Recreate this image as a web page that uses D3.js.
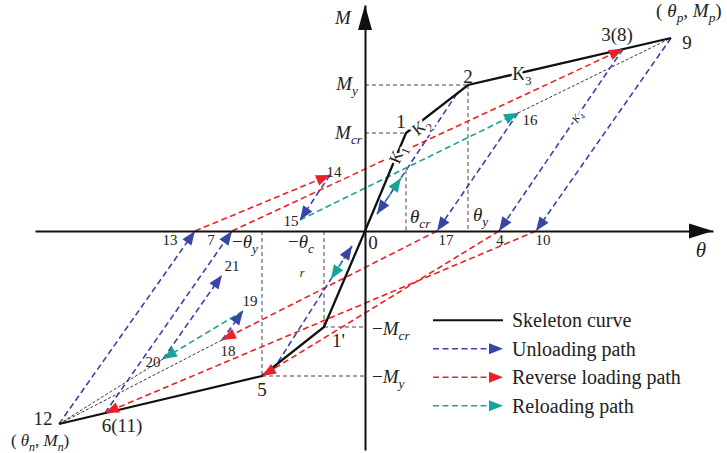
<!DOCTYPE html>
<html><head><meta charset="utf-8">
<script src="https://cdn.jsdelivr.net/npm/d3@7"></script>
<style>
body{margin:0;background:#fff}
svg{display:block}
text{font-family:"Liberation Serif","Times New Roman",serif;fill:#222}
</style>
</head><body>
<svg id="c" width="727" height="453"></svg>
<script>
// ---------- data (θ, M in schematic units) ----------
const pointIds   = ["O","1","2","3","9","1'","5","6","12","4","10","17","13","7","14","15","16","18","19","20","21","a","b","c","d","e","f"];
const pointTheta = [0, 4.1, 10.3, 25.8, 30.6, -4.1, -10.3, -26.0, -30.6, 13.4, 17.1, 7.2, -17.0, -13.3, -3.5, -6.5, 15.3, -14.3, -12.2, -20.2, -14.3, 9.2, 1.2, 3.6, -9.2, -1.3, -3.4];
const pointM     = [0, 9.8, 14.6, 18.2, 19.3, -9.6, -14.5, -18.2, -19.3, 0, 0, 0, 0, 0, 5.6, 1.1, 11.8, -10.9, -8.0, -12.8, -4.4, 13.75, 1.7, 5.3, -13.9, -1.5, -4.8];

const skeletonPositive = ["O","1","2","9"];
const skeletonNegative = ["O","1'","5","12"];
const unloadingPaths = [["9","10"],["3","4"],["16","17"],["14","15"],["12","13"],["6","7"],["20","21"],["18","19"],["a","b"],["d","e"]];
const reverseLoadingPaths = [["4","5"],["10","6"],["13","14"],["7","3"],["17","18"]];
const reloadingPaths = [["15","16"],["19","20"],["b","c"],["e","f"]];
const targetPaths = [["16","9"],["20","12"],["18","12"]];

const legendLabels = ["Skeleton curve","Unloading path","Reverse loading path","Reloading path"];
const legendKinds  = ["skeleton","unloading","reverse","reloading"];

// ---------- setup ----------
const P = {};
pointIds.forEach((id,i)=>P[id]=[pointTheta[i], pointM[i]]);
const svg = d3.select("#c");
const x = d3.scaleLinear().domain([-33, 34.8]).range([35, 713]);
const y = d3.scaleLinear().domain([-21.9, 22.6]).range([450, 5]);
const color = {unloading:"#3a44a6", reverse:"#ea2228", reloading:"#17a39a", skeleton:"#111"};
const line = d3.line().x(d=>x(d[0])).y(d=>y(d[1]));

// ---------- guide lines ----------
const Mcross = P.b[1] + (P["1"][0]-P.b[0])*(P.a[1]-P.b[1])/(P.a[0]-P.b[0]);
const guides = [
  [[0,P["1"][1]],P["1"]], [[0,P["2"][1]],P["2"]], [P["2"],[P["2"][0],0]],
  [[P["1"][0],Mcross],[P["1"][0],0]],
  [P["1'"],[0,P["1'"][1]]], [P["5"],[0,P["5"][1]]],
  [[P["1'"][0],0],P["1'"]], [[P["5"][0],0],P["5"]]
];
const gG = svg.append("g");
guides.forEach(g=>gG.append("path").attr("d",line(g)).attr("fill","none")
  .attr("stroke","#444").attr("stroke-width",1).attr("stroke-dasharray","4,3"));

// thin black target lines
targetPaths.forEach(([a,b])=>svg.append("path").attr("d",line([P[a],P[b]])).attr("fill","none")
  .attr("stroke","#222").attr("stroke-width",0.9).attr("stroke-dasharray","3,2"));

// ---------- path drawing ----------
function arrowHead(g, p0, p1, col, L=14, W=5.5){
  const x0=x(p0[0]), y0=y(p0[1]), x1=x(p1[0]), y1=y(p1[1]);
  const dx=x1-x0, dy=y1-y0, len=Math.hypot(dx,dy), ux=dx/len, uy=dy/len;
  const bx=x1-ux*L, by=y1-uy*L;
  g.append("path").attr("d",`M${x1},${y1}L${bx-uy*W},${by+ux*W}L${bx+uy*W},${by-ux*W}Z`).attr("fill",col);
}
const layerLines = svg.append("g"), layerHeads = svg.append("g");
function dashed(paths, kind){
  paths.forEach(([a,b])=>{
    layerLines.append("path").attr("d",line([P[a],P[b]])).attr("fill","none")
      .attr("stroke",color[kind]).attr("stroke-width",1.6).attr("stroke-dasharray","6,3.5");
    arrowHead(layerHeads, P[a], P[b], color[kind]);
  });
}
dashed(reverseLoadingPaths,"reverse");
dashed(unloadingPaths,"unloading");
dashed(reloadingPaths,"reloading");

// skeleton
[skeletonPositive, skeletonNegative].forEach(s=>svg.append("path").attr("d",line(s.map(k=>P[k])))
  .attr("fill","none").attr("stroke",color.skeleton).attr("stroke-width",2.3).attr("stroke-linejoin","miter"));
svg.node().appendChild(layerHeads.node());

// ---------- axes ----------
const ax = svg.append("g").attr("transform",`translate(0,${y(0)})`)
  .call(d3.axisBottom(x).tickValues([]).tickSizeOuter(0));
const ay = svg.append("g").attr("transform",`translate(${x(0)},0)`)
  .call(d3.axisLeft(y).tickValues([]).tickSizeOuter(0));
[ax,ay].forEach(a=>a.select(".domain").attr("stroke","#111").attr("stroke-width",2));
const xe = x.range()[1], ye = y.range()[1];
svg.append("path").attr("d",`M${xe},${y(0)}L${xe-24},${y(0)-7.5}L${xe-24},${y(0)+7.5}Z`).attr("fill","#111");
svg.append("path").attr("d",`M${x(0)},${ye}L${x(0)-7},${ye+25}L${x(0)+7},${ye+25}Z`).attr("fill","#111");

// ---------- text ----------
function rich(px, py, parts, size, anchor="start", extra={}){
  const t = svg.append("text").attr("x",px).attr("y",py).attr("font-size",size).attr("text-anchor",anchor);
  let off=0;
  parts.forEach(([s,k,dx])=>{
    const sub = k==="s"||k==="sn";
    const target = sub? size*0.28 : 0;
    const ts = t.append("tspan").text(s).attr("dy", target-off);
    if (dx) ts.attr("dx",dx);
    off = target;
    if (sub) ts.attr("font-size", size*0.7);
    if (k==="i"||k==="s") ts.attr("font-style","italic");
  });
  if (extra.halo) t.attr("stroke","#fff").attr("stroke-width",5).attr("paint-order","stroke").attr("stroke-linejoin","round");
  if (extra.rotate!==undefined) t.attr("transform",`rotate(${extra.rotate},${extra.cx},${extra.cy})`);
  return t;
}
const big=19, small=15;
// main point labels
rich(373,249,[["0","n"]],big,"middle");
rich(401,128,[["1","n"]],big,"middle");
rich(468,83,[["2","n"]],big,"middle");
rich(617,41,[["3(8)","n"]],big,"middle");
rich(687,49,[["9","n"]],big,"middle");
rich(656,17,[["(","n"],["θ","i",5],["p","s"],[", ","n"],["M","i"],["p","s"],[")","n"]],big,"start");
rich(43,425,[["12","n"]],big,"middle");
rich(122,432,[["6(11)","n"]],big,"middle");
rich(11,446,[["(","n"],["θ","i",4],["n","s"],[", ","n"],["M","i"],["n","s"],[")","n"]],17,"start");
rich(262,396,[["5","n"]],big,"middle");
rich(332,347,[["1'","n"]],big,"start");
// axis labels
rich(343,24,[["M","i"]],big,"middle");
rich(701,257,[["θ","i"]],21,"middle");
rich(358,90,[["M","i"],["y","s"]],big,"end");
rich(362,139,[["M","i"],["cr","s"]],big,"end");
rich(372,335,[["−","n"],["M","i"],["cr","s"]],big,"start");
rich(372,383,[["−","n"],["M","i"],["y","s"]],big,"start");
rich(410,223,[["θ","i"],["cr","s"]],big,"start");
rich(473,221,[["θ","i"],["y","s"]],big,"start");
rich(232,248,[["−","n"],["θ","i"],["y","s"]],big,"start");
rich(288,248,[["−","n"],["θ","i"],["c","s"]],big,"start");
rich(302,277,[["r","i"]],12,"middle");
// small step labels
[["13",170,245],["7",211,245],["17",446,245],["4",500,245],["10",543,245],["14",334,177],["15",291,226],
 ["16",530,125],["21",232,271],["19",250,306],["18",228,356],["20",153,367]]
 .forEach(([s,px,py])=>rich(px,py,[[s,"n"]],small,"middle"));
// stiffness labels
rich(397,160,[["K","n"],["1","sn"]],17,"middle",{halo:true,rotate:-67,cx:397,cy:154});
rich(421,132,[["K","n"],["2","sn"]],17,"middle",{halo:true,rotate:-38,cx:421,cy:126});
rich(522,80,[["K","n"],["3","sn"]],18,"middle",{halo:true});
rich(577,121,[["K","i"],["4","s"]],11,"middle",{halo:true,rotate:-56,cx:577,cy:117});

// ---------- legend ----------
const lg = svg.append("g");
const rowY = d3.scaleBand().domain(legendLabels).range([306,420]);
legendLabels.forEach((lab,i)=>{
  const ry = rowY(lab)+rowY.bandwidth()/2, kind=legendKinds[i];
  if (kind==="skeleton"){
    lg.append("line").attr("x1",433).attr("x2",503).attr("y1",ry).attr("y2",ry).attr("stroke","#111").attr("stroke-width",1.8);
  } else {
    lg.append("line").attr("x1",433).attr("x2",492).attr("y1",ry).attr("y2",ry).attr("stroke",color[kind])
      .attr("stroke-width",1.6).attr("stroke-dasharray","6,3.5");
    lg.append("path").attr("d",`M503,${ry}L489,${ry-5.5}L489,${ry+5.5}Z`).attr("fill",color[kind]);
  }
  lg.append("text").attr("x",512).attr("y",ry+7).attr("font-size",20).text(lab);
});
</script>
</body></html>
